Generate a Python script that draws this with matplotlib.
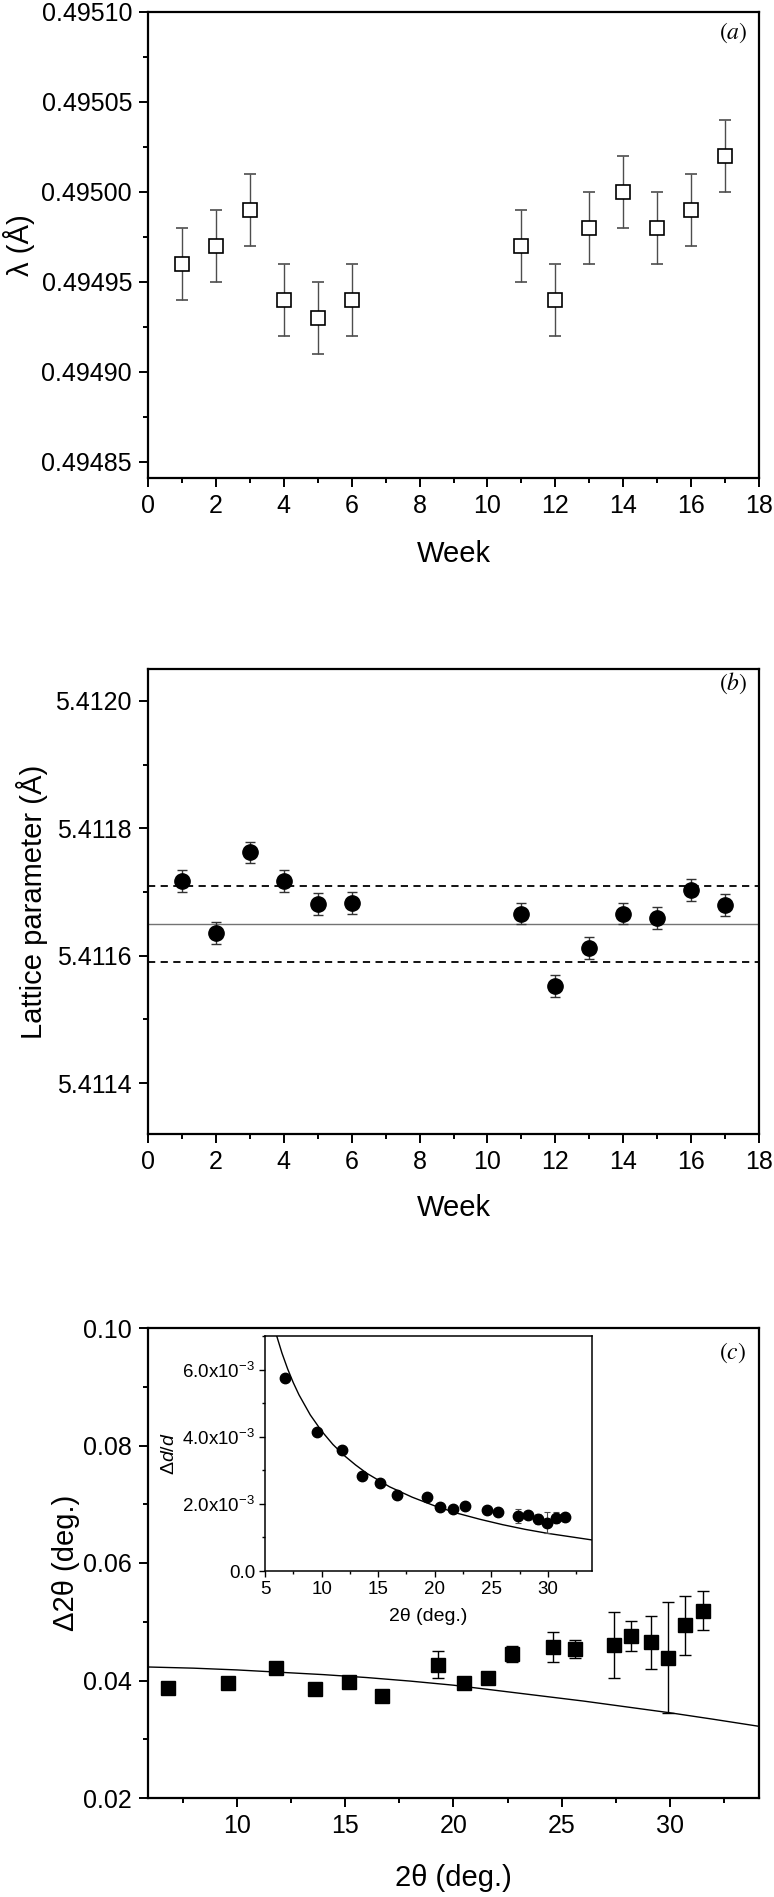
import matplotlib
matplotlib.use('Agg')
import matplotlib.pyplot as plt
from matplotlib.ticker import MultipleLocator, FormatStrFormatter

plt.rcParams['font.family'] = ['Liberation Sans', 'DejaVu Sans']
plt.rcParams['mathtext.fontset'] = 'custom'
plt.rcParams['mathtext.rm'] = 'Liberation Sans'
plt.rcParams['mathtext.it'] = 'Liberation Sans:italic'

# (a) wavelength per week
weeks_a = [1, 2, 3, 4, 5, 6, 11, 12, 13, 14, 15, 16, 17]
wavelength = [0.49496, 0.49497, 0.49499, 0.49494, 0.49493, 0.49494,
              0.49497, 0.49494, 0.49498, 0.49500, 0.49498, 0.49499, 0.49502]
wavelength_err = [0.00002] * 13

# (b) lattice parameter per week
weeks_b = [1, 2, 3, 4, 5, 6, 11, 12, 13, 14, 15, 16, 17]
lattice = [5.411717, 5.411636, 5.411762, 5.411717, 5.411681, 5.411683,
           5.411666, 5.411552, 5.411612, 5.411666, 5.411659, 5.411703, 5.411680]
lattice_err = [0.000017] * 13
lattice_mean = 5.41165
lattice_band = [5.41159, 5.41171]

# (c) peak width vs 2theta
two_theta = [6.8, 9.6, 11.8, 13.6, 15.2, 16.7, 19.3, 20.5, 21.6, 22.7,
             24.6, 25.6, 27.4, 28.2, 29.1, 29.9, 30.7, 31.5]
d2theta = [0.0388, 0.0396, 0.0422, 0.0385, 0.0398, 0.0374, 0.0427, 0.0395, 0.0405,
           0.0445, 0.0457, 0.0454, 0.0460, 0.0476, 0.0465, 0.0439, 0.0494, 0.0519]
d2theta_err = [0, 0, 0, 0, 0, 0, 0.0023, 0, 0, 0.0014,
               0.0025, 0.0015, 0.0056, 0.0025, 0.0045, 0.0094, 0.0050, 0.0033]
fit_x = [5.9, 8, 10, 12, 14, 16, 18, 20, 22, 24, 26, 28, 30, 32, 34.1]
fit_y = [0.0423, 0.0421, 0.0418, 0.0414, 0.0410, 0.0405, 0.0399, 0.0392,
         0.0383, 0.0374, 0.0365, 0.0355, 0.0345, 0.0334, 0.0322]

# inset: delta d / d
dd = [5.75e-3, 4.14e-3, 3.59e-3, 2.84e-3, 2.63e-3, 2.25e-3, 2.19e-3, 1.91e-3, 1.86e-3,
      1.94e-3, 1.81e-3, 1.75e-3, 1.64e-3, 1.66e-3, 1.56e-3, 1.44e-3, 1.59e-3, 1.61e-3]
dd_err = [0, 0, 0, 0, 0, 0, 0, 0, 0, 0, 0.1e-3, 0, 0.2e-3, 0.09e-3, 0.15e-3, 0.31e-3, 0.16e-3, 0.1e-3]
inset_fit_x = [6.0, 6.5, 7, 7.5, 8, 9, 10, 11, 12, 13, 14, 16, 18, 20, 22, 24, 26, 28, 30, 32, 34]
inset_fit_y = [7.04e-3, 6.49e-3, 6.02e-3, 5.61e-3, 5.25e-3, 4.65e-3, 4.17e-3, 3.77e-3,
               3.44e-3, 3.16e-3, 2.91e-3, 2.51e-3, 2.20e-3, 1.94e-3, 1.72e-3, 1.54e-3,
               1.38e-3, 1.24e-3, 1.12e-3, 1.02e-3, 0.92e-3]

W, H = 774, 1897
fig = plt.figure(figsize=(W / 100, H / 100), dpi=100)


def box(x0, x1, y0, y1):
    return [x0 / W, 1 - y1 / H, (x1 - x0) / W, (y1 - y0) / H]


def style(ax, fs, major=6.5, minor=3.5):
    for s in ax.spines.values():
        s.set_linewidth(1.6)
    ax.tick_params(which='both', direction='out', top=False, right=False, width=1.4)
    ax.tick_params(which='major', length=major, labelsize=fs, pad=5)
    ax.tick_params(which='minor', length=minor)


ax_a = fig.add_axes(box(148, 759, 12, 478))
ax_b = fig.add_axes(box(148, 759, 669, 1134))
ax_c = fig.add_axes(box(148, 759, 1328, 1798))
ax_in = fig.add_axes(box(265, 592, 1336, 1571))

# panel a
ax_a.errorbar(weeks_a, wavelength, yerr=wavelength_err, fmt='s', ms=9.4, mfc='white',
              mec='black', mew=1.2, ecolor='0.3', elinewidth=1, capsize=4, capthick=1)
ax_a.set_xlim(0, 18)
ax_a.set_ylim(0.494841, 0.49510)
ax_a.xaxis.set_major_locator(MultipleLocator(2))
ax_a.xaxis.set_minor_locator(MultipleLocator(1))
ax_a.yaxis.set_major_locator(MultipleLocator(0.00005))
ax_a.yaxis.set_minor_locator(MultipleLocator(0.000025))
ax_a.yaxis.set_major_formatter(FormatStrFormatter('%.5f'))
style(ax_a, 18)
ax_a.set_xlabel('Week', fontsize=21)
ax_a.set_ylabel('λ (Å)', fontsize=21)
ax_a.xaxis.set_label_coords(0.5, -0.133)
ax_a.yaxis.set_label_coords(-0.185, 0.5)
ax_a.text(0.957, 0.955, r'$(\mathit{a})$', transform=ax_a.transAxes, fontsize=17,
          ha='center', va='center', math_fontfamily='stix')

# panel b
ax_b.axhline(lattice_mean, color='0.45', lw=1)
for v in lattice_band:
    ax_b.axhline(v, color='black', lw=1.3, ls=(0, (4, 3)))
ax_b.errorbar(weeks_b, lattice, yerr=lattice_err, fmt='o', ms=11, mfc='black',
              mec='black', ecolor='0.2', elinewidth=1, capsize=3.5, capthick=1)
ax_b.set_xlim(0, 18)
ax_b.set_ylim(5.41132, 5.41205)
ax_b.xaxis.set_major_locator(MultipleLocator(2))
ax_b.xaxis.set_minor_locator(MultipleLocator(1))
ax_b.yaxis.set_major_locator(MultipleLocator(0.0002))
ax_b.yaxis.set_minor_locator(MultipleLocator(0.0001))
ax_b.yaxis.set_major_formatter(FormatStrFormatter('%.4f'))
style(ax_b, 18)
ax_b.set_xlabel('Week', fontsize=21)
ax_b.set_ylabel('Lattice parameter (Å)', fontsize=21)
ax_b.xaxis.set_label_coords(0.5, -0.129)
ax_b.yaxis.set_label_coords(-0.164, 0.5)
ax_b.text(0.957, 0.97, r'$(\mathit{b})$', transform=ax_b.transAxes, fontsize=17,
          ha='center', va='center', math_fontfamily='stix')

# panel c
ax_c.plot(fit_x, fit_y, color='black', lw=1)
ax_c.errorbar(two_theta, d2theta, yerr=d2theta_err, fmt='s', ms=10, mfc='black',
              mec='black', ecolor='black', elinewidth=1, capsize=4.5, capthick=1)
ax_c.set_xlim(5.9, 34.1)
ax_c.set_ylim(0.02, 0.10)
ax_c.xaxis.set_major_locator(MultipleLocator(5))
ax_c.xaxis.set_minor_locator(MultipleLocator(2.5))
ax_c.yaxis.set_major_locator(MultipleLocator(0.02))
ax_c.yaxis.set_minor_locator(MultipleLocator(0.01))
ax_c.yaxis.set_major_formatter(FormatStrFormatter('%.2f'))
style(ax_c, 18)
ax_c.set_xlabel('2θ (deg.)', fontsize=21)
ax_c.set_ylabel('Δ2θ (deg.)', fontsize=21)
ax_c.xaxis.set_label_coords(0.5, -0.14)
ax_c.yaxis.set_label_coords(-0.111, 0.5)
ax_c.text(0.957, 0.947, r'$(\mathit{c})$', transform=ax_c.transAxes, fontsize=17,
          ha='center', va='center', math_fontfamily='stix')

# inset
ax_in.plot(inset_fit_x, inset_fit_y, color='black', lw=1)
ax_in.errorbar(two_theta, dd, yerr=dd_err, fmt='o', ms=7.5, mfc='black', mec='black',
               ecolor='0.3', elinewidth=0.8, capsize=2.5, capthick=0.8)
ax_in.set_xlim(5, 33.9)
ax_in.set_ylim(0, 7e-3)
ax_in.xaxis.set_major_locator(MultipleLocator(5))
ax_in.xaxis.set_minor_locator(MultipleLocator(2.5))
ax_in.yaxis.set_minor_locator(MultipleLocator(1e-3))
ax_in.set_yticks([0, 2e-3, 4e-3, 6e-3])
ax_in.set_yticklabels(['0.0', r'2.0x10$^{-3}$', r'4.0x10$^{-3}$', r'6.0x10$^{-3}$'])
style(ax_in, 13.5, major=4.5, minor=2.5)
for s in ax_in.spines.values():
    s.set_linewidth(1.1)
ax_in.tick_params(which='both', width=1.0, pad=2.5)
ax_in.set_xlabel('2θ (deg.)', fontsize=14)
ax_in.set_ylabel(r'$\Delta d/d$', fontsize=14)
ax_in.xaxis.set_label_coords(0.5, -0.157)
ax_in.yaxis.set_label_coords(-0.265, 0.5)

fig.savefig('out.png', dpi=100)
